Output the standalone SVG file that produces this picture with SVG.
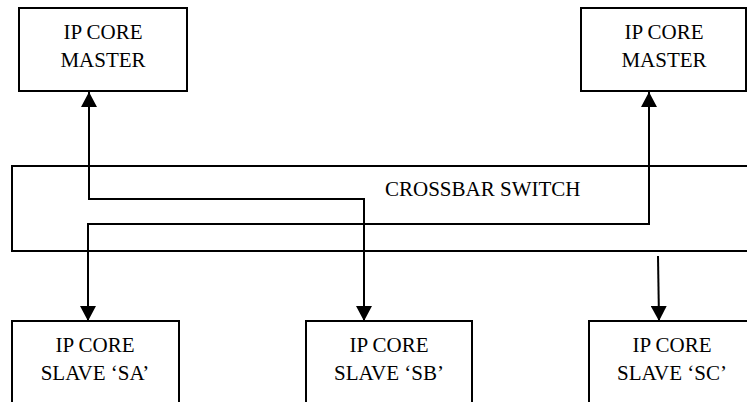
<svg xmlns="http://www.w3.org/2000/svg" width="747" height="402" viewBox="0 0 747 402">
<defs>
<style>
.box{fill:#fff;stroke:#000;stroke-width:2}
.lbl{font-family:"Liberation Serif","Times New Roman",serif;font-size:21px;fill:#000;text-anchor:middle}
.conn{fill:none;stroke:#000;stroke-width:2}
</style>
<marker id="ah" viewBox="0 0 16 16" markerWidth="16" markerHeight="16" refX="15" refY="8" orient="auto-start-reverse" markerUnits="userSpaceOnUse">
<path d="M0,0 L15,8 L0,16 Z" fill="#000"/>
</marker>
</defs>
<rect width="747" height="402" fill="#fff"/>
<g id="master1">
<rect class="box" x="19" y="8" width="168" height="83"/>
<text class="lbl" x="103" y="39">IP CORE</text>
<text class="lbl" x="103" y="67">MASTER</text>
</g>
<g id="master2">
<rect class="box" x="581" y="8" width="165" height="83"/>
<text class="lbl" x="664" y="39">IP CORE</text>
<text class="lbl" x="664" y="67">MASTER</text>
</g>
<g id="crossbar">
<rect class="box" x="12" y="166" width="760" height="85"/>
<text class="lbl" x="385" y="196" style="text-anchor:start">CROSSBAR SWITCH</text>
</g>
<g id="slaveSA">
<rect class="box" x="12" y="321" width="167" height="95"/>
<text class="lbl" x="95" y="352">IP CORE</text>
<text class="lbl" x="95" y="380">SLAVE ‘SA’</text>
</g>
<g id="slaveSB">
<rect class="box" x="306" y="321" width="166" height="95"/>
<text class="lbl" x="389" y="352">IP CORE</text>
<text class="lbl" x="389" y="380">SLAVE ‘SB’</text>
</g>
<g id="slaveSC">
<rect class="box" x="589" y="321" width="166" height="95"/>
<text class="lbl" x="672" y="352">IP CORE</text>
<text class="lbl" x="672" y="380">SLAVE ‘SC’</text>
</g>
<g id="connectors">
<path class="conn" d="M364,321 L364,199 L89,199 L89,92" marker-start="url(#ah)" marker-end="url(#ah)"/>
<path class="conn" d="M649,92 L649,224 L88,224 L88,321" marker-start="url(#ah)" marker-end="url(#ah)"/>
<path class="conn" d="M658,256 L659,321" marker-end="url(#ah)"/>
</g>
</svg>
